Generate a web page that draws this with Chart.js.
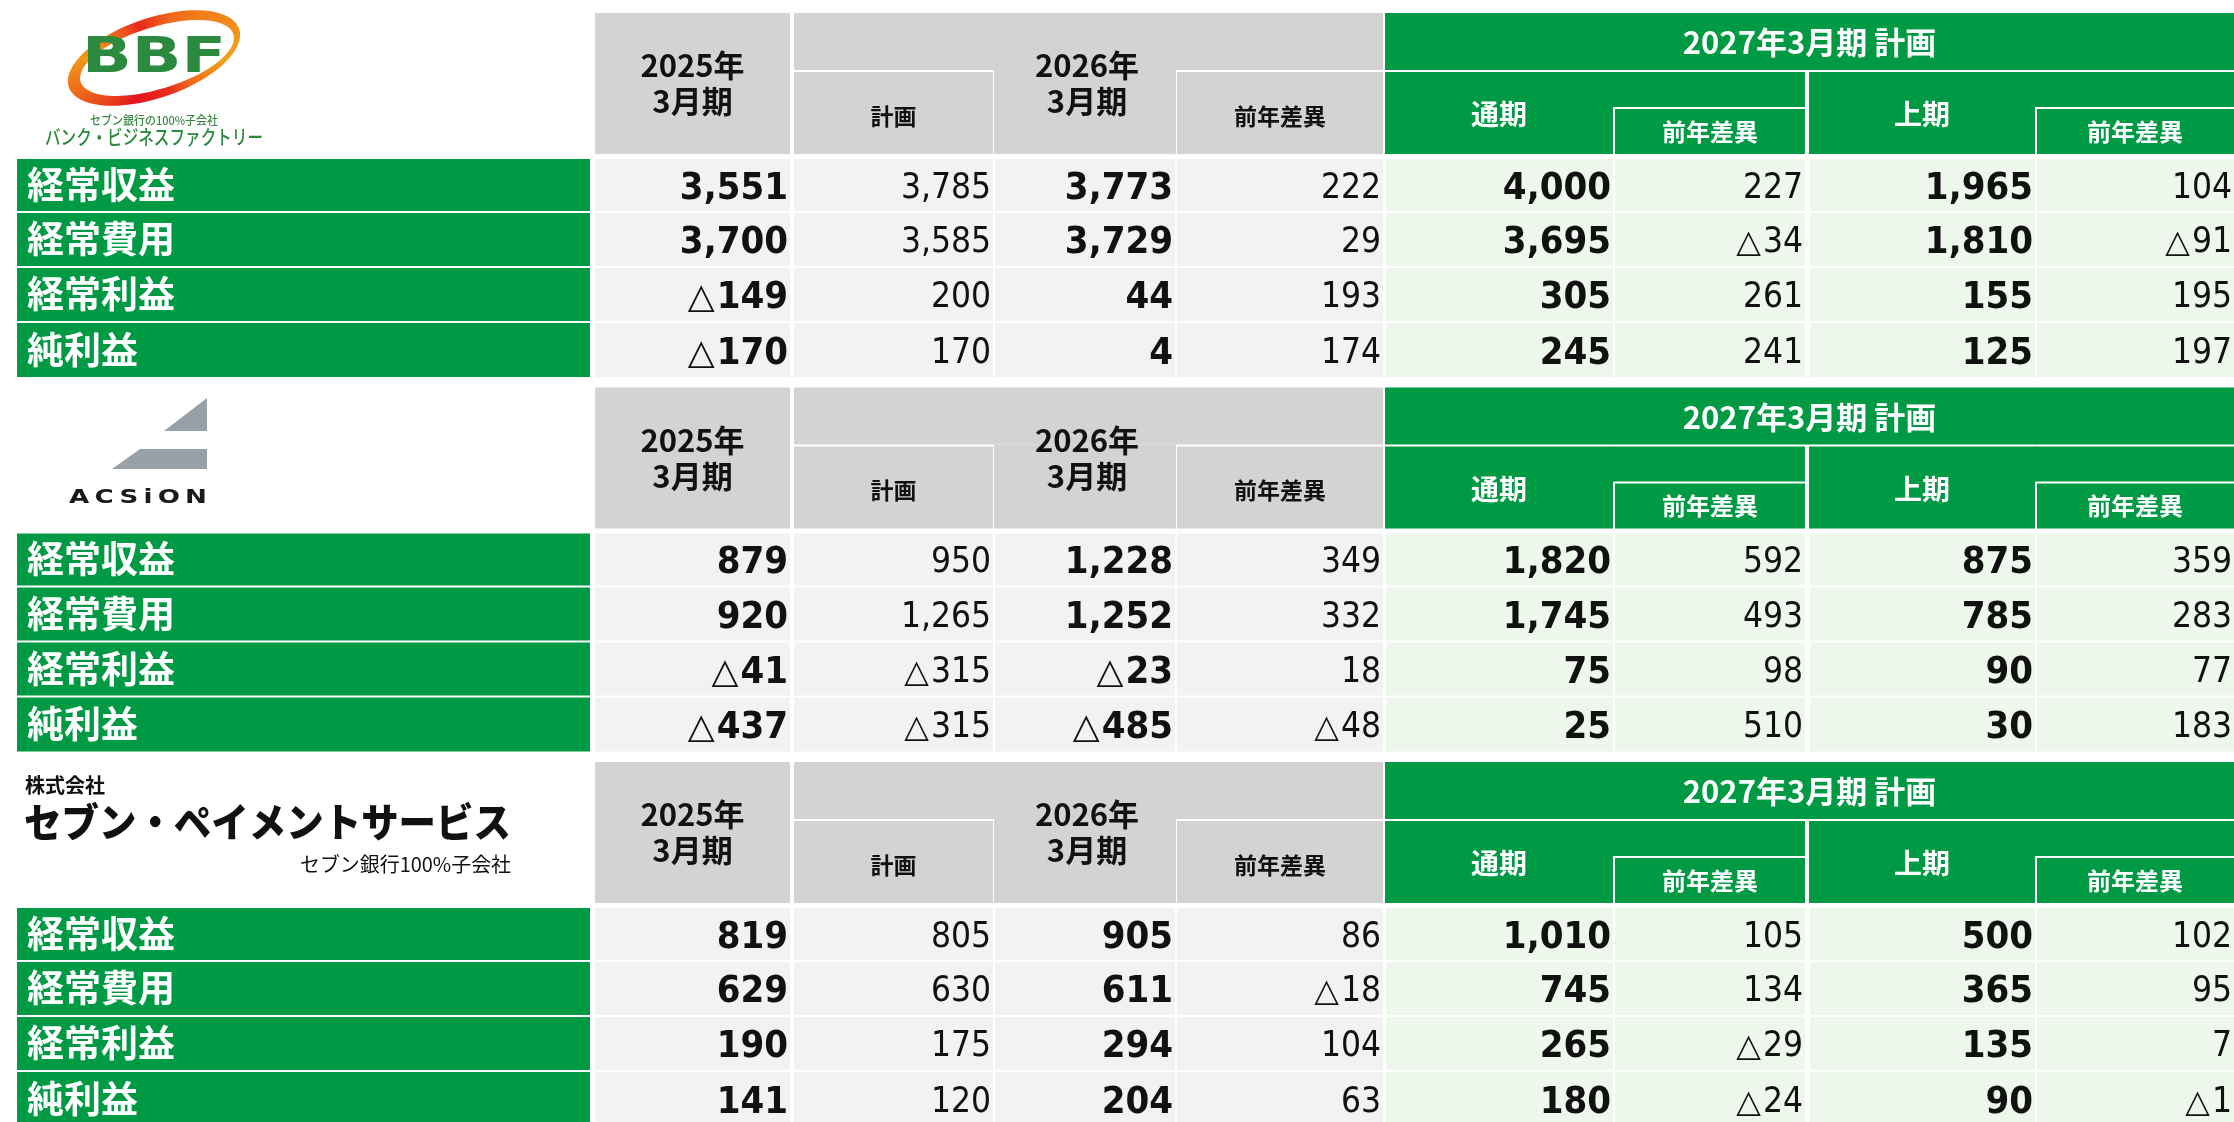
<!DOCTYPE html>
<html>
<head>
<meta charset="utf-8">
<script src="https://cdn.jsdelivr.net/npm/chart.js@4.4.1/dist/chart.umd.min.js"></script>
<style>
  html, body { margin: 0; padding: 0; background: #ffffff; }
  canvas { display: block; }
</style>
</head>
<body>
<canvas id="c" width="2234" height="1122"></canvas>
<script>
// ---------------- DATA ----------------
const companies = ['バンク・ビジネスファクトリー', 'ACSiON', 'セブン・ペイメントサービス'];
const rowLabels = ['経常収益', '経常費用', '経常利益', '純利益'];
const headerLabels = ['2025年', '3月期', '計画', '2026年', '3月期', '前年差異', '2027年3月期 計画', '通期', '前年差異', '上期', '前年差異'];
// values per column: BBF (4 rows), ACSiON (4 rows), Seven Payment Service (4 rows)
const fy2025      = [3551, 3700, -149, -170,   879,  920,  -41, -437,   819, 629, 190, 141];
const plan2026    = [3785, 3585,  200,  170,   950, 1265, -315, -315,   805, 630, 175, 120];
const fy2026      = [3773, 3729,   44,    4,  1228, 1252,  -23, -485,   905, 611, 294, 204];
const diff2026    = [ 222,   29,  193,  174,   349,  332,   18,  -48,    86, -18, 104,  63];
const plan2027    = [4000, 3695,  305,  245,  1820, 1745,   75,   25,  1010, 745, 265, 180];
const diff2027    = [ 227,  -34,  261,  241,   592,  493,   98,  510,   105, 134, -29, -24];
const plan2027H1  = [1965, 1810,  155,  125,   875,  785,   90,   30,   500, 365, 135,  90];
const diff2027H1  = [ 104,  -91,  195,  197,   359,  283,   77,  183,   102,  95,   7,  -1];

// ---------------- STYLE / LAYOUT ----------------
const GREEN = '#009944';
const HEAD_GRAY = '#D4D3D1';
const CELL_GRAY = '#F2F2F2';
const CELL_GREEN = '#EEF7EB';
const CJK = '"Noto Sans CJK JP", "Noto Sans CJK SC", sans-serif';
const NUM_BOLD = 'bold 38px "DejaVu Sans Condensed", "DejaVu Sans"';
const NUM_REG = '35px "DejaVu Sans Condensed", "DejaVu Sans"';

const blockTop = [13, 387.5, 762];
const rowSpans = [[146, 198], [200, 253], [255, 308], [310, 364]];
const labelSpan = [17, 590];
const columns = [
  { vals: fy2025,     x0: 595,  x1: 790,  bold: true,  bg: CELL_GRAY },
  { vals: plan2026,   x0: 794,  x1: 993,  bold: false, bg: CELL_GRAY },
  { vals: fy2026,     x0: 995,  x1: 1175, bold: true,  bg: CELL_GRAY },
  { vals: diff2026,   x0: 1177, x1: 1383, bold: false, bg: CELL_GRAY },
  { vals: plan2027,   x0: 1386, x1: 1613, bold: true,  bg: CELL_GREEN },
  { vals: diff2027,   x0: 1615, x1: 1805, bold: false, bg: CELL_GREEN },
  { vals: plan2027H1, x0: 1810, x1: 2035, bold: true,  bg: CELL_GREEN },
  { vals: diff2027H1, x0: 2037, x1: 2234, bold: false, bg: CELL_GREEN }
];

function fmt(v) { return Math.abs(v).toLocaleString('en-US'); }

const tablePlugin = {
  id: 'tablePlugin',
  beforeDraw(chart) {
    const ctx = chart.ctx;
    const sx = chart.scales.x, sy = chart.scales.y;
    const X = v => sx.getPixelForValue(v);
    const Y = v => sy.getPixelForValue(v);
    const rect = (x0, y0, x1, y1, color) => {
      ctx.fillStyle = color;
      const px0 = X(x0), px1 = X(x1), py0 = Y(y0), py1 = Y(y1);
      ctx.fillRect(px0, Math.min(py0, py1), px1 - px0, Math.abs(py1 - py0));
    };
    const cjkText = (t, cx, cy, size, color, weight, align) => {
      ctx.font = (weight || 'bold') + ' ' + size + 'px ' + CJK;
      ctx.fillStyle = color;
      ctx.textAlign = align || 'center';
      ctx.textBaseline = 'alphabetic';
      ctx.fillText(t, X(cx), Y(cy) + 0.37 * size);
    };
    const fitText = (t, x0, x1, cy, font, color, spacing) => {
      ctx.save();
      ctx.font = font;
      ctx.fillStyle = color;
      ctx.textAlign = 'left';
      ctx.textBaseline = 'middle';
      if (spacing) ctx.letterSpacing = spacing + 'px';
      const w = ctx.measureText(t).width - (spacing || 0);
      ctx.translate(X(x0), Y(cy));
      ctx.scale((X(x1) - X(x0)) / w, 1);
      ctx.fillText(t, 0, 0);
      ctx.restore();
    };

    ctx.save();
    ctx.fillStyle = '#ffffff';
    ctx.fillRect(0, 0, chart.width, chart.height);

    blockTop.forEach((H, b) => {
      // ---- gray header ----
      rect(595, H, 790, H + 141, HEAD_GRAY);
      rect(794, H, 1383, H + 57, HEAD_GRAY);
      rect(794, H + 59, 993, H + 141, HEAD_GRAY);
      rect(994, H + 57, 1176, H + 141, HEAD_GRAY);
      rect(1177, H + 59, 1383, H + 141, HEAD_GRAY);
      // ---- green header ----
      rect(1385, H, 2234, H + 57, GREEN);
      rect(1385, H + 59, 1613, H + 141, GREEN);
      rect(1613, H + 59, 1805, H + 94, GREEN);
      rect(1613, H + 59, 1614, H + 94, '#0b8f3a');
      rect(1615, H + 96, 1805, H + 141, GREEN);
      rect(1809, H + 59, 2035, H + 141, GREEN);
      rect(2035, H + 59, 2234, H + 94, GREEN);
      rect(2035, H + 59, 2036, H + 94, '#0b8f3a');
      rect(2037, H + 96, 2234, H + 141, GREEN);

      cjkText(headerLabels[0], 692.5, H + 53, 31, '#111');
      cjkText(headerLabels[1], 692.5, H + 89, 31, '#111');
      cjkText(headerLabels[2], 893.5, H + 103, 23, '#111');
      cjkText(headerLabels[3], 1087, H + 53, 31, '#111');
      cjkText(headerLabels[4], 1087, H + 89, 31, '#111');
      cjkText(headerLabels[5], 1280, H + 103, 23, '#111');
      cjkText(headerLabels[6], 1809.5, H + 30, 31, '#fff');
      cjkText(headerLabels[7], 1499, H + 102, 28, '#fff');
      cjkText(headerLabels[8], 1710, H + 119, 24, '#fff');
      cjkText(headerLabels[9], 1922, H + 102, 28, '#fff');
      cjkText(headerLabels[10], 2135, H + 119, 24, '#fff');

      // ---- data rows ----
      rowLabels.forEach((lab, r) => {
        const [r0, r1] = rowSpans[r];
        const y0 = H + r0, y1 = H + r1, cy = (y0 + y1) / 2;
        rect(labelSpan[0], y0, labelSpan[1], y1, GREEN);
        cjkText(lab, 27, cy, 37, '#fff', 'bold', 'left');
        columns.forEach(col => {
          rect(col.x0, y0, col.x1, y1, col.bg);
          const v = col.vals[b * 4 + r];
          ctx.fillStyle = '#111';
          ctx.textAlign = 'right';
          ctx.textBaseline = 'alphabetic';
          ctx.font = col.bold ? NUM_BOLD : NUM_REG;
          const size = col.bold ? 38 : 35;
          const base = Y(cy) + 0.729 * size / 2;
          const xr = X(col.x1) - 2;
          const s = fmt(v);
          ctx.fillText(s, xr, base);
          if (v < 0) {
            const w = ctx.measureText(s).width;
            ctx.font = (col.bold ? 35 : 32) + 'px "DejaVu Sans"';
            ctx.fillText('△', xr - w - 2, base);
          }
        });
      });
    });

    // ---------------- LOGOS ----------------
    // BBF ring
    ctx.save();
    const cg = ctx.createConicGradient(0, X(154), Y(58));
    cg.addColorStop(0.0, '#F4A11B');
    cg.addColorStop(0.18, '#E8301C');
    cg.addColorStop(0.32, '#E5141E');
    cg.addColorStop(0.5, '#F29A18');
    cg.addColorStop(0.68, '#E8281C');
    cg.addColorStop(0.82, '#EE6A1A');
    cg.addColorStop(1.0, '#F4A11B');
    ctx.fillStyle = cg;
    ctx.beginPath();
    ctx.ellipse(X(154), Y(58), 90, 40, -0.33, 0, Math.PI * 2);
    ctx.ellipse(X(157), Y(58), 80, 31, -0.30, Math.PI * 2, 0, true);
    ctx.fill('evenodd');
    ctx.restore();
    fitText('BBF', 82, 226, 59, 'bold 50px "DejaVu Sans"', '#2B8A3E');
    fitText('セブン銀行の100%子会社', 90, 218, 120, '500 12px ' + CJK, '#3a8a45');
    fitText('バンク・ビジネスファクトリー', 45, 263, 137, '500 20px ' + CJK, '#2B8A3E');

    // ACSiON
    ctx.fillStyle = '#98A1A8';
    ctx.beginPath();
    ctx.moveTo(X(207), Y(398)); ctx.lineTo(X(207), Y(431)); ctx.lineTo(X(164), Y(431));
    ctx.closePath(); ctx.fill();
    ctx.beginPath();
    ctx.moveTo(X(140), Y(449)); ctx.lineTo(X(207), Y(449)); ctx.lineTo(X(207), Y(469)); ctx.lineTo(X(112), Y(469));
    ctx.closePath(); ctx.fill();
    fitText('ACSiON', 69, 207, 498, 'bold 20px "DejaVu Sans"', '#1a1a1a', 4);

    // Seven Payment Service
    fitText('株式会社', 25, 105, 785, 'bold 20px ' + CJK, '#111');
    fitText(companies[2], 24, 511, 822, '900 40px ' + CJK, '#111');
    fitText('セブン銀行100%子会社', 300, 511, 864, '400 20px ' + CJK, '#111');

    ctx.restore();
  }
};

new Chart(document.getElementById('c').getContext('2d'), {
  type: 'scatter',
  data: { datasets: [] },
  options: {
    responsive: false,
    animation: false,
    devicePixelRatio: 1,
    layout: { padding: 0 },
    plugins: { legend: { display: false }, tooltip: { enabled: false } },
    scales: {
      x: { type: 'linear', min: 0, max: 2234, offset: false, display: false },
      y: { type: 'linear', min: 0, max: 1122, reverse: true, offset: false, display: false }
    }
  },
  plugins: [tablePlugin]
});
</script>
</body>
</html>
